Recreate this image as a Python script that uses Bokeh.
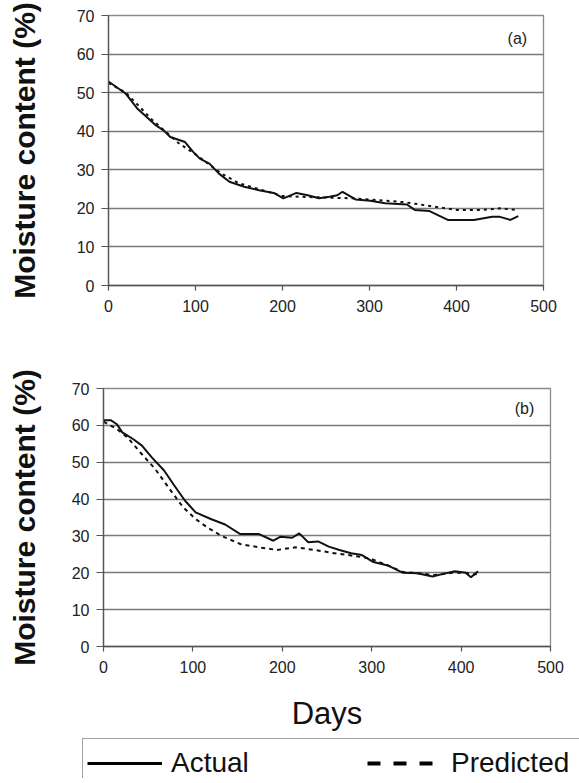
from bokeh.plotting import figure
from bokeh.models import Range1d, FixedTicker, Label, Legend, LegendItem
from bokeh.embed import file_html
from bokeh.resources import INLINE

# ---------------- data ----------------
x_ticks = [0, 100, 200, 300, 400, 500]
y_ticks = [0, 10, 20, 30, 40, 50, 60, 70]

days_a_actual = [0, 20, 33, 42, 54, 63, 71, 88, 97, 105, 116, 127, 139, 156, 173, 190, 201, 216,
                 229, 242, 254, 263, 269, 284, 301, 318, 343, 352, 369, 390, 420, 441, 450, 462, 471]
mc_a_actual = [52.9, 49.7, 45.9, 44.1, 41.6, 40.3, 38.5, 37.2, 34.7, 32.9, 31.6, 29.0, 26.9, 25.6,
               24.7, 24.0, 22.6, 24.0, 23.4, 22.6, 23.0, 23.4, 24.3, 22.3, 22.0, 21.3, 21.0, 19.6,
               19.3, 17.0, 17.0, 17.8, 17.8, 17.0, 18.0]

days_a_pred = [0, 20, 50, 80, 100, 130, 150, 180, 200, 220, 250, 280, 300, 340, 370, 400, 430, 450, 468]
mc_a_pred = [52.5, 50.0, 43.0, 37.0, 34.0, 29.0, 26.5, 24.5, 23.2, 23.0, 22.8, 22.6, 22.3, 21.6,
             20.6, 19.6, 19.6, 20.0, 19.6]

days_b_actual = [0, 8, 15, 21, 33, 43, 54, 68, 78, 91, 103, 120, 136, 153, 174, 190, 198, 211, 219,
                 229, 240, 252, 264, 277, 289, 302, 318, 335, 351, 368, 380, 393, 405, 411, 419]
mc_b_actual = [61.4, 61.4, 60.3, 58.1, 56.3, 54.5, 51.3, 47.7, 44.1, 39.6, 36.4, 34.6, 33.1, 30.5,
               30.5, 28.7, 29.8, 29.5, 30.7, 28.3, 28.5, 27.1, 26.2, 25.3, 24.8, 22.9, 22.0, 20.0,
               19.9, 19.0, 19.7, 20.4, 20.0, 18.8, 20.4]

days_b_pred = [0, 15, 27, 41, 58, 74, 89, 103, 115, 132, 153, 174, 194, 215, 236, 256, 277, 298,
               318, 335, 351, 370, 390, 405, 415, 420]
mc_b_pred = [61.0, 59.0, 56.7, 52.7, 48.1, 42.7, 37.8, 34.6, 32.5, 30.0, 27.8, 26.9, 26.2, 26.9,
             26.2, 25.4, 24.7, 23.9, 22.0, 20.2, 19.9, 19.4, 20.0, 20.0, 19.5, 20.0]

legend_labels = ["Actual", "Predicted"]

FONT = "Liberation Sans"
W = 579


def make_fig(height, bl, br, bt, bb, ylab_standoff):
    p = figure(width=W, height=height, output_backend="svg", toolbar_location=None, title=None,
               x_range=Range1d(0, 500), y_range=Range1d(0, 70),
               min_border_left=bl, min_border_right=br, min_border_top=bt, min_border_bottom=bb)
    p.background_fill_color = "white"
    p.border_fill_color = "white"
    p.outline_line_color = "#8a8a8a"
    p.outline_line_width = 1.3
    p.xgrid.visible = False
    p.ygrid.ticker = FixedTicker(ticks=y_ticks)
    p.ygrid.grid_line_color = "#7a7a7a"
    p.ygrid.grid_line_width = 1.3
    p.xaxis.ticker = FixedTicker(ticks=x_ticks)
    p.yaxis.ticker = FixedTicker(ticks=y_ticks)
    for ax in (p.xaxis[0], p.yaxis[0]):
        ax.axis_line_color = "#555555"
        ax.axis_line_width = 1.3
        ax.major_tick_line_color = "#555555"
        ax.major_tick_line_width = 1.2
        ax.minor_tick_line_color = None
        ax.major_tick_in = 0
        ax.major_label_text_font = FONT
        ax.major_label_text_font_size = "16px"
        ax.major_label_text_color = "#222222"
    p.xaxis.major_tick_out = 5
    p.xaxis.major_label_standoff = 9
    p.yaxis.major_tick_out = 7
    p.yaxis.major_label_standoff = 7
    p.yaxis.axis_label = "Moisture content (%)"
    p.yaxis.axis_label_text_font = FONT
    p.yaxis.axis_label_text_font_style = "bold"
    p.yaxis.axis_label_text_font_size = "30px"
    p.yaxis.axis_label_text_color = "#111111"
    p.yaxis.axis_label_standoff = ylab_standoff
    return p


# ---------------- panel (a) ----------------
p1 = make_fig(336, 108, 36, 15, 51, 33)
p1.line(days_a_pred, mc_a_pred, line_color="#111111", line_width=2, line_dash="3 4")
p1.line(days_a_actual, mc_a_actual, line_color="#111111", line_width=2)
p1.add_layout(Label(x=470, y=64, text="(a)", text_font=FONT, text_font_size="16px",
                    text_align="center", text_baseline="middle", text_color="#222222"))

# ---------------- panel (b) ----------------
p2 = make_fig(399, 103, 29, 52, 89, 28)
p2.line(days_b_pred, mc_b_pred, line_color="#111111", line_width=2, line_dash="4 4")
p2.line(days_b_actual, mc_b_actual, line_color="#111111", line_width=2)
p2.add_layout(Label(x=471, y=64.5, text="(b)", text_font=FONT, text_font_size="16px",
                    text_align="center", text_baseline="middle", text_color="#222222"))
p2.xaxis.axis_label = "Days"
p2.xaxis.axis_label_text_font = FONT
p2.xaxis.axis_label_text_font_style = "normal"
p2.xaxis.axis_label_text_font_size = "31px"
p2.xaxis.axis_label_text_color = "#111111"
p2.xaxis.axis_label_standoff = 20

# ---------------- legend strip ----------------
p3 = figure(width=W, height=43, output_backend="svg", toolbar_location=None, title=None,
            x_axis_location=None, y_axis_location=None,
            min_border_left=82, min_border_right=0, min_border_top=3, min_border_bottom=0)
p3.outline_line_color = None
p3.grid.visible = False
p3.background_fill_color = "white"
p3.border_fill_color = "white"
leg_act = p3.line(days_b_actual, mc_b_actual, line_color="black", line_width=3, visible=False)
leg_pred = p3.line(days_b_pred, mc_b_pred, line_color="black", line_width=4, line_dash="13 13",
                   visible=False)
legend = Legend(items=[LegendItem(label=legend_labels[0], renderers=[leg_act]),
                       LegendItem(label=legend_labels[1], renderers=[leg_pred])],
                location="top_left", orientation="horizontal",
                glyph_width=75, glyph_height=40, label_standoff=9, label_width=130,
                spacing=66, padding=4, margin=0,
                border_line_color="#444444", border_line_width=1.5,
                background_fill_color="white", background_fill_alpha=1.0,
                label_text_font=FONT, label_text_font_size="28px", label_text_color="#111111")
p3.add_layout(legend, "center")

open("out.html", "w").write(file_html([p1, p2, p3], INLINE))
